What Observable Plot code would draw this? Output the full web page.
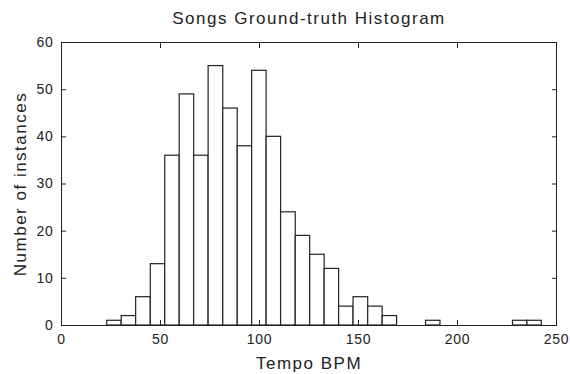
<!DOCTYPE html>
<html>
<head>
<meta charset="utf-8">
<script src="https://cdn.jsdelivr.net/npm/d3@7"></script>
<script src="https://cdn.jsdelivr.net/npm/@observablehq/plot@0.6"></script>
<style>
  html, body { margin: 0; padding: 0; background: #fff; }
  svg { display: block; }
  g[aria-label="text"] text { letter-spacing: 1.5px; }
  g[aria-label$="tick label"] text { letter-spacing: 0.7px; }
</style>
</head>
<body>
<div id="chart"></div>
<script>
const title = "Songs Ground-truth Histogram";
const xLabel = "Tempo BPM";
const yLabel = "Number of instances";

// bin edges (BPM)
const binEdges = [23.1, 30.4, 37.7, 45.1, 52.4, 59.7, 67.0, 74.3, 81.7, 89.0, 96.3,
  103.6, 110.9, 118.3, 125.6, 132.9, 140.2, 147.5, 154.9, 162.2, 169.5,
  176.8, 184.1, 191.4, 198.8, 206.1, 213.4, 220.7, 228.0, 235.3, 242.6];
// counts per bin
const counts = [1, 2, 6, 13, 36, 49, 36, 55, 46, 38, 54, 40, 24, 19, 15, 12, 4, 6, 4, 2,
  0, 0, 1, 0, 0, 0, 0, 0, 1, 1];

const xTicks = [0, 50, 100, 150, 200, 250];
const yTicks = [0, 10, 20, 30, 40, 50, 60];

const bins = counts.map((c, i) => ({x1: binEdges[i], x2: binEdges[i + 1], count: c}));

const font = "'Liberation Sans', Arial, Helvetica, sans-serif";

const chart = Plot.plot({
  width: 570,
  height: 374,
  marginLeft: 61,
  marginRight: 14,
  marginTop: 42,
  marginBottom: 49,
  style: {fontFamily: font, fontSize: "14px", color: "#000", background: "#fff"},
  x: {domain: [0, 250], ticks: xTicks},
  y: {domain: [0, 60], ticks: yTicks},
  marks: [
    Plot.rectY(bins, {x1: "x1", x2: "x2", y: "count", fill: "white", stroke: "#222", strokeWidth: 1.2}),
    Plot.frame({stroke: "#222", strokeWidth: 1}),
    Plot.axisX(xTicks, {anchor: "bottom", tickSize: -5, tickPadding: 14, label: null, fontSize: 14, stroke: "#222", fill: "#222"}),
    Plot.axisX(xTicks, {anchor: "top", tickSize: -5, tickFormat: () => "", label: null, stroke: "#222"}),
    Plot.axisY(yTicks, {anchor: "left", tickSize: -5, tickPadding: 13, label: null, fontSize: 14, stroke: "#222", fill: "#222"}),
    Plot.axisY(yTicks, {anchor: "right", tickSize: -5, tickFormat: () => "", label: null, stroke: "#222"}),
    Plot.text([title], {frameAnchor: "top", lineAnchor: "bottom", dy: -19, fontSize: 17, fill: "#222"}),
    Plot.text([xLabel], {frameAnchor: "bottom", lineAnchor: "bottom", dy: 43, fontSize: 17, fill: "#222"}),
    Plot.text([yLabel], {frameAnchor: "left", textAnchor: "middle", lineAnchor: "bottom", dx: -36, rotate: -90, fontSize: 17, fill: "#222"})
  ]
});
document.getElementById("chart").appendChild(chart);
</script>
</body>
</html>
